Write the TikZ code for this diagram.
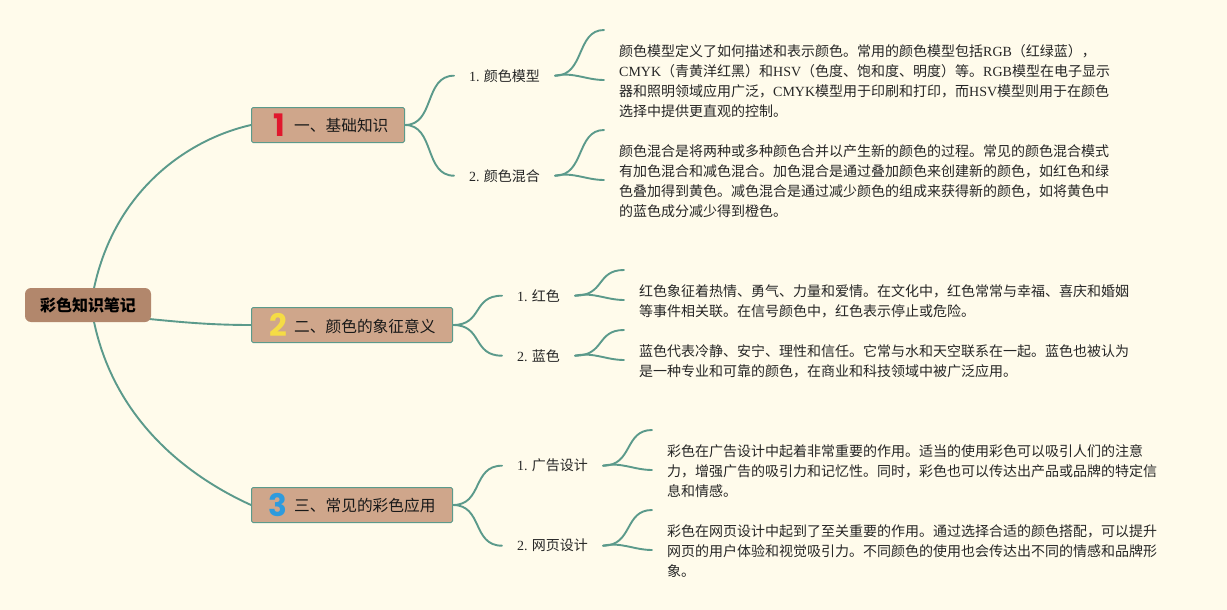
\documentclass[tikz,border=0pt]{standalone}
\usepackage{fontspec}
\setmainfont{Noto Sans CJK SC}
\newfontfamily\lt{Liberation Serif}
\newfontfamily\icon{Poppins}[BoldFont={Poppins Bold}]
\usetikzlibrary{backgrounds}
\definecolor{bgc}{HTML}{FFFBEB}
\definecolor{linec}{HTML}{5B9A8B}
\definecolor{rootc}{HTML}{B2876C}
\definecolor{topicc}{HTML}{CFA68B}
\newcommand{\la}[1]{{\lt #1}}
\tikzset{
 link/.style={draw=linec,line width=1.9pt,line cap=round},
 rootbox/.style={fill=rootc,rounded corners=6pt,minimum width=126pt,minimum height=34pt,inner sep=0pt,font=\fontsize{16}{20}\selectfont\bfseries,text=black},
 topicbox/.style={draw=linec,line width=1pt,fill=topicc,rounded corners=1.5pt,minimum height=35pt,inner sep=0pt,anchor=west},
 topictext/.style={font=\fontsize{15.7}{20}\selectfont,text=black!90,inner sep=0pt,anchor=west},
 numicon/.style={font=\icon\bfseries\fontsize{31}{31}\selectfont,inner sep=0pt},
 subnode/.style={font=\fontsize{14}{20}\selectfont,text=black!85,inner xsep=15pt,inner ysep=0pt,anchor=west},
 leaf/.style={font=\fontsize{14}{20}\selectfont,text=black!85,inner xsep=15pt,inner ysep=0pt,anchor=west,align=left},
}
\begin{document}
\begin{tikzpicture}[x=1pt,y=-1pt]
\path[use as bounding box] (0,0) rectangle (1227,610);
% root
\node[rootbox] (root) at (88,305) {彩色知识笔记};
% topics
\node[topicbox,minimum width=153pt] (t1) at (251,125) {};
\node[topicbox,minimum width=201pt] (t2) at (251,325) {};
\node[topicbox,minimum width=201pt] (t3) at (251,505) {};
\node[numicon,text={rgb,255:red,224;green,24;blue,45}] (n1) at (279,125) {1};
\node[numicon,text={rgb,255:red,245;green,220;blue,69}] (n2) at (278,325) {2};
\node[numicon,text={rgb,255:red,46;green,155;blue,221}] (n3) at (278,505) {3};
\node[topictext] (l1) at (294,126) {一、基础知识};
\node[topictext] (l2) at (294,326) {二、颜色的象征意义};
\node[topictext] (l3) at (294,506) {三、常见的彩色应用};
% subs
\node[subnode] (s1) at (454,75.7) {\la{1.} 颜色模型};
\node[subnode] (s2) at (454,175.7) {\la{2.} 颜色混合};
\node[subnode] (s3) at (502,295.7) {\la{1.} 红色};
\node[subnode] (s4) at (502,355.7) {\la{2.} 蓝色};
\node[subnode] (s5) at (502,465.7) {\la{1.} 广告设计};
\node[subnode] (s6) at (502,545.7) {\la{2.} 网页设计};
% leaves
\node[leaf] (p1) at (604,81) {颜色模型定义了如何描述和表示颜色。常用的颜色模型包括\la{RGB}（红绿蓝），\\
\la{CMYK}（青黄洋红黑）和\la{HSV}（色度、饱和度、明度）等。\la{RGB}模型在电子显示\\
器和照明领域应用广泛，\la{CMYK}模型用于印刷和打印，而\la{HSV}模型则用于在颜色\\
选择中提供更直观的控制。};
\node[leaf] (p2) at (604,181) {颜色混合是将两种或多种颜色合并以产生新的颜色的过程。常见的颜色混合模式\\
有加色混合和减色混合。加色混合是通过叠加颜色来创建新的颜色，如红色和绿\\
色叠加得到黄色。减色混合是通过减少颜色的组成来获得新的颜色，如将黄色中\\
的蓝色成分减少得到橙色。};
\node[leaf] (p3) at (624,301) {红色象征着热情、勇气、力量和爱情。在文化中，红色常常与幸福、喜庆和婚姻\\
等事件相关联。在信号颜色中，红色表示停止或危险。};
\node[leaf] (p4) at (624,361) {蓝色代表冷静、安宁、理性和信任。它常与水和天空联系在一起。蓝色也被认为\\
是一种专业和可靠的颜色，在商业和科技领域中被广泛应用。};
\node[leaf] (p5) at (652,471) {彩色在广告设计中起着非常重要的作用。适当的使用彩色可以吸引人们的注意\\
力，增强广告的吸引力和记忆性。同时，彩色也可以传达出产品或品牌的特定信\\
息和情感。};
\node[leaf] (p6) at (652,551) {彩色在网页设计中起到了至关重要的作用。通过选择合适的颜色搭配，可以提升\\
网页的用户体验和视觉吸引力。不同颜色的使用也会传达出不同的情感和品牌形\\
象。};
% free ends of the branches
\coordinate (e1a) at (604,30); \coordinate (e1b) at (604,80);
\coordinate (e2a) at (604,130); \coordinate (e2b) at (604,180);
\coordinate (e3a) at (624,270); \coordinate (e3b) at (624,300);
\coordinate (e4a) at (624,330); \coordinate (e4b) at (624,360);
\coordinate (e5a) at (652,430); \coordinate (e5b) at (652,470);
\coordinate (e6a) at (652,510); \coordinate (e6b) at (652,550);
\begin{pgfonlayer}{background}
\fill[bgc] (0,0) rectangle (1227,610);
\draw[link] (root.center) ++(3,0) .. controls +(16,-110) and (185,140) .. (t1.west);
\draw[link] (root.east) ++(-2,14) .. controls (180,322) and (210,325) .. (t2.west);
\draw[link] (root.center) ++(3,0) .. controls +(16,110) and (185,475) .. (t3.west);
\foreach \p/\a/\b in {t1/s1/s2,t2/s3/s4,t3/s5/s6}{
  \draw[link] (\p.east) .. controls +(30,0) and ([xshift=-30pt]\a.west) .. (\a.west);
  \draw[link] (\p.east) .. controls +(30,0) and ([xshift=-30pt]\b.west) .. (\b.west);
}
\foreach \s/\a/\b in {s1/e1a/e1b,s2/e2a/e2b,s3/e3a/e3b,s4/e4a/e4b,s5/e5a/e5b,s6/e6a/e6b}{
  \draw[link] (\s.east) .. controls +(30,0) and ([xshift=-28pt]\a) .. (\a);
  \draw[link] (\s.east) .. controls +(18,-4) and ([xshift=-18pt]\b) .. (\b);
}
\end{pgfonlayer}
\end{tikzpicture}
\end{document}
